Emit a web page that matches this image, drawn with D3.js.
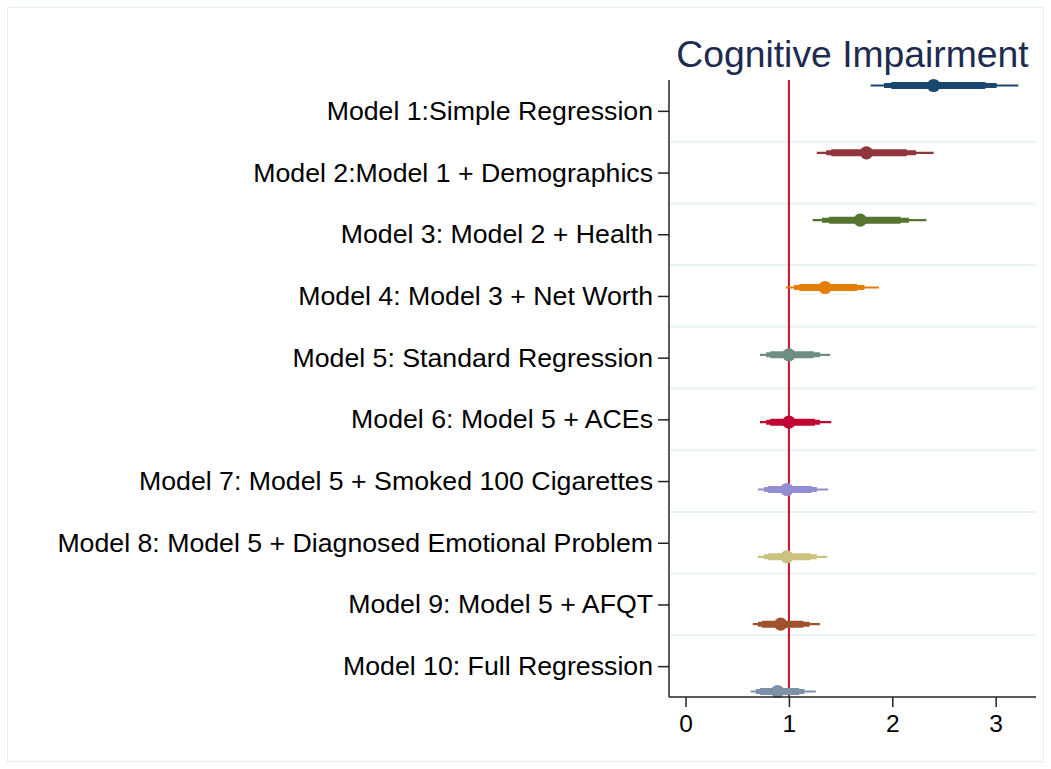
<!DOCTYPE html>
<html><head><meta charset="utf-8">
<script src="https://cdn.jsdelivr.net/npm/d3@7"></script>
<style>body{margin:0;background:#fff;} text{font-family:"Liberation Sans",Arial,Helvetica,sans-serif;}</style>
</head><body>
<svg id="chart" width="1051" height="769"></svg>
<script>
const models = ["Model 1:Simple Regression","Model 2:Model 1 + Demographics","Model 3: Model 2 + Health","Model 4: Model 3 + Net Worth","Model 5: Standard Regression","Model 6: Model 5 + ACEs","Model 7: Model 5 + Smoked 100 Cigarettes","Model 8: Model 5 + Diagnosed Emotional Problem","Model 9: Model 5 + AFQT","Model 10: Full Regression"];
const estimate = [2.40,1.75,1.69,1.35,1.00,1.00,0.98,0.98,0.92,0.89];
const ci99Low  = [1.79,1.27,1.23,0.97,0.72,0.72,0.70,0.70,0.65,0.63];
const ci99High = [3.22,2.40,2.33,1.87,1.40,1.41,1.38,1.37,1.30,1.26];
const ci95Low  = [1.92,1.36,1.32,1.05,0.78,0.78,0.76,0.76,0.70,0.68];
const ci95High = [3.01,2.23,2.16,1.73,1.30,1.30,1.27,1.27,1.20,1.15];
const ci90Low  = [1.99,1.41,1.39,1.10,0.82,0.82,0.80,0.80,0.74,0.72];
const ci90High = [2.90,2.14,2.08,1.66,1.24,1.25,1.22,1.21,1.14,1.10];
const colors = ["#1a476f","#90353b","#55752f","#e37e00","#6e8e84","#c10534","#938dd2","#cac27e","#a0522d","#7b92a8"];
const xTicks = [0,1,2,3];
const title = "Cognitive Impairment";

const svg = d3.select("#chart");
const L = 669, R = 1036, T = 80, B = 697;

svg.append("rect").attr("x",7.5).attr("y",7.5).attr("width",1036).attr("height",754)
  .attr("fill","none").attr("stroke","#e6eeee").attr("stroke-width",1);

const x = d3.scaleLinear().domain([-0.16,3.39]).range([L,R]);
const yLab = d3.scalePoint().domain(models).range([T,B]).padding(0.5);
const yMark = d3.scalePoint().domain(models).range([T,B]).padding(0.082);

// gridlines between label ticks
const step = yLab.step();
const g = svg.append("g");
for (let i=0;i<models.length-1;i++){
  const yy = yLab(models[i]) + step/2;
  g.append("line").attr("x1",L+1).attr("x2",R).attr("y1",yy).attr("y2",yy)
   .attr("stroke","#eaf1f3").attr("stroke-width",2);
}

// reference line
svg.append("line").attr("x1",x(1)).attr("x2",x(1)).attr("y1",T).attr("y2",B)
  .attr("stroke","#c8102e").attr("stroke-width",2);

// CIs
const idx = d3.range(models.length);
const marks = svg.append("g");
const tiers = [[ci99Low,ci99High,2.2],[ci95Low,ci95High,5],[ci90Low,ci90High,7]];
tiers.forEach(([lo,hi,w])=>{
  marks.selectAll(null).data(idx).join("line")
    .attr("x1",i=>x(lo[i])).attr("x2",i=>x(hi[i]))
    .attr("y1",i=>yMark(models[i])).attr("y2",i=>yMark(models[i]))
    .attr("stroke",i=>colors[i]).attr("stroke-width",w);
});
marks.selectAll("circle").data(idx).join("circle")
  .attr("cx",i=>x(estimate[i])).attr("cy",i=>yMark(models[i])).attr("r",6.6)
  .attr("fill",i=>colors[i]);

// axes
const yAxis = d3.axisLeft(yLab).tickSize(11).tickPadding(5);
const ya = svg.append("g").attr("transform",`translate(${L},0)`).call(yAxis);
ya.select(".domain").attr("d",`M0,${T}V${B}`).attr("stroke","#333").attr("stroke-width",1.6);
ya.selectAll(".tick line").attr("stroke","#222").attr("stroke-width",1.5);
ya.selectAll(".tick text").attr("font-size",26.7).attr("fill","#000")
  .attr("font-family","'Liberation Sans',Arial,sans-serif");

const xAxis = d3.axisBottom(x).tickValues(xTicks).tickFormat(d3.format("d")).tickSize(10).tickPadding(8);
const xa = svg.append("g").attr("transform",`translate(0,${B})`).call(xAxis);
xa.select(".domain").attr("d",`M${L},0H${R}`).attr("stroke","#222").attr("stroke-width",1.6);
xa.selectAll(".tick line").attr("stroke","#222").attr("stroke-width",1.5);
xa.selectAll(".tick text").attr("font-size",24.5).attr("fill","#000")
  .attr("font-family","'Liberation Sans',Arial,sans-serif");

svg.append("text").attr("x",(L+R)/2).attr("y",67).attr("text-anchor","middle")
  .attr("font-size",37.3).attr("fill","#1d2b50").text(title);
</script>
</body></html>
